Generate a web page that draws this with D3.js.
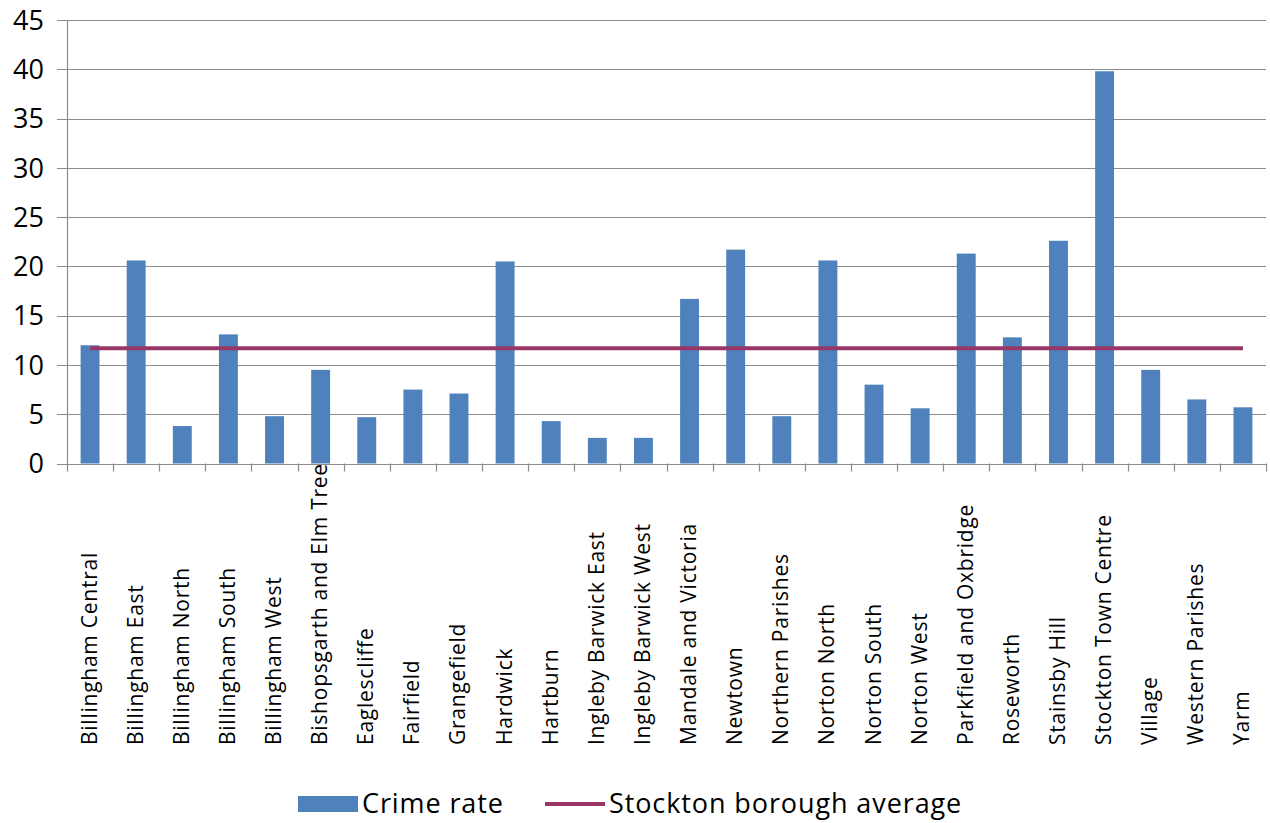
<!DOCTYPE html>
<html>
<head>
<meta charset="utf-8">
<script src="https://cdn.jsdelivr.net/npm/d3@7"></script>
<style>
  html, body { margin: 0; padding: 0; background: #fff; }
  svg { display: block; font-family: "Open Sans", "Noto Sans", sans-serif; }
</style>
</head>
<body>
<svg id="chart" width="1270" height="823"></svg>
<script>
const categories = [
  "Billingham Central", "Billingham East", "Billingham North", "Billingham South",
  "Billingham West", "Bishopsgarth and Elm Tree", "Eaglescliffe", "Fairfield",
  "Grangefield", "Hardwick", "Hartburn", "Ingleby Barwick East", "Ingleby Barwick West",
  "Mandale and Victoria", "Newtown", "Northern Parishes", "Norton North", "Norton South",
  "Norton West", "Parkfield and Oxbridge", "Roseworth", "Stainsby Hill",
  "Stockton Town Centre", "Village", "Western Parishes", "Yarm"
];
const crimeRate = [
  12.0, 20.6, 3.8, 13.1, 4.8, 9.5, 4.7, 7.5,
  7.1, 20.5, 4.3, 2.6, 2.6,
  16.7, 21.7, 4.8, 20.6, 8.0,
  5.6, 21.3, 12.8, 22.6,
  39.8, 9.5, 6.5, 5.7
];
const boroughAverage = categories.map(() => 11.7);
const yTicks = [0, 5, 10, 15, 20, 25, 30, 35, 40, 45];
const seriesNames = ["Crime rate", "Stockton borough average"];

const svg = d3.select("#chart");
const margin = { left: 67, right: 4, top: 20 };
const W = 1270;

const x = d3.scaleBand().domain(categories).range([margin.left, W - margin.right]).paddingInner(0.59).paddingOuter(0.295);
const xTick = d3.scaleBand().domain(categories).range([margin.left, W - margin.right]);
const y = d3.scaleLinear().domain([0, 45]).range([463.5, margin.top]);

// gridlines
svg.append("g")
  .selectAll("line").data(yTicks).join("line")
  .attr("x1", margin.left - 10).attr("x2", W - margin.right)
  .attr("y1", d => Math.round(y(d)) + 0.5).attr("y2", d => Math.round(y(d)) + 0.5)
  .attr("stroke", "#8c8c8c").attr("stroke-width", 1.2);

// y axis line
svg.append("line")
  .attr("x1", margin.left + 0.5).attr("x2", margin.left + 0.5)
  .attr("y1", y(45)).attr("y2", y(0))
  .attr("stroke", "#8c8c8c").attr("stroke-width", 1.2);

// x ticks
const tickPos = categories.map(c => xTick(c)).concat([W - margin.right]);
svg.append("g").selectAll("line").data(tickPos).join("line")
  .attr("x1", d => Math.round(d) + 0.5).attr("x2", d => Math.round(d) + 0.5)
  .attr("y1", y(0)).attr("y2", y(0) + 8)
  .attr("stroke", "#8c8c8c").attr("stroke-width", 1.2);

// y labels
svg.append("g").selectAll("text").data(yTicks).join("text")
  .attr("x", 44).attr("y", d => y(d)).attr("dy", "0.36em")
  .attr("text-anchor", "end").attr("font-size", 27).attr("fill", "#000")
  .text(d => d);

// bars
svg.append("g").selectAll("rect").data(crimeRate).join("rect")
  .attr("x", (d, i) => x(categories[i]))
  .attr("width", x.bandwidth())
  .attr("y", d => y(d))
  .attr("height", d => y(0) - y(d))
  .attr("fill", "#4f81bd");

// average line
const line = d3.line()
  .x((d, i) => xTick(categories[i]) + xTick.bandwidth() / 2)
  .y(d => y(d));
svg.append("path").datum(boroughAverage)
  .attr("d", line).attr("fill", "none")
  .attr("stroke", "#963765").attr("stroke-width", 4);

// x labels
svg.append("g").selectAll("text").data(categories).join("text")
  .attr("transform", c => `translate(${xTick(c) + xTick.bandwidth() / 2 + 6.5},745) rotate(-90)`)
  .attr("text-anchor", "start").attr("font-size", 21).attr("letter-spacing", 0.75).attr("fill", "#000")
  .text(c => c);

// legend
const lg = svg.append("g");
lg.append("rect").attr("x", 298).attr("y", 796).attr("width", 60).attr("height", 16).attr("fill", "#4f81bd");
lg.append("text").attr("x", 362).attr("y", 813).attr("font-size", 27).attr("letter-spacing", 0.9).attr("fill", "#000").text(seriesNames[0]);
lg.append("line").attr("x1", 545).attr("x2", 605).attr("y1", 804).attr("y2", 804)
  .attr("stroke", "#963765").attr("stroke-width", 4);
lg.append("text").attr("x", 609).attr("y", 813).attr("font-size", 27).attr("letter-spacing", 0.9).attr("fill", "#000").text(seriesNames[1]);
</script>
</body>
</html>
